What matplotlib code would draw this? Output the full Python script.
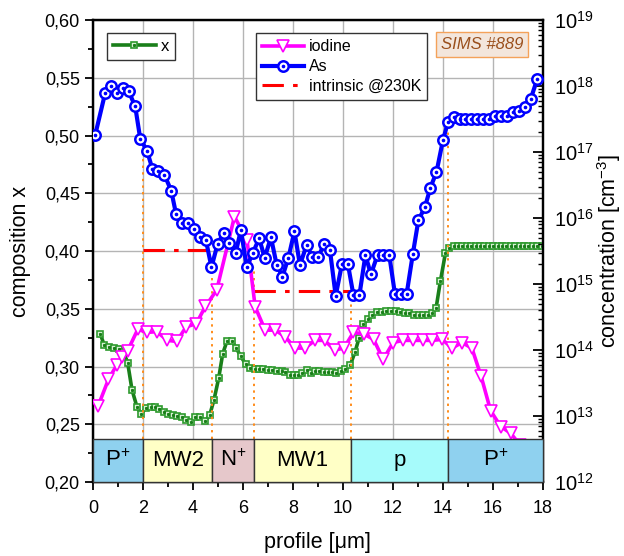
import numpy as np
import matplotlib
matplotlib.use("Agg")
import matplotlib.pyplot as plt
from matplotlib.patches import Rectangle
from matplotlib.ticker import MultipleLocator, FuncFormatter, LogLocator, NullFormatter

plt.rcParams['font.family'] = ['Liberation Sans', 'DejaVu Sans']
plt.rcParams['mathtext.fontset'] = 'custom'
plt.rcParams['mathtext.rm'] = 'Liberation Sans'
plt.rcParams['mathtext.it'] = 'Liberation Sans:italic'

# ---- composition profile x (left axis) ----
x_pos = [0.30, 0.44, 0.63, 0.83, 1.03, 1.22, 1.39, 1.56, 1.76, 1.92,
         2.12, 2.31, 2.49, 2.66, 2.84, 3.02, 3.19, 3.36, 3.55, 3.73,
         3.94, 4.10, 4.30, 4.50, 4.67, 4.84, 5.03, 5.19, 5.36, 5.56,
         5.73, 5.91, 6.11, 6.28, 6.48, 6.65, 6.82, 7.00, 7.17, 7.36,
         7.55, 7.70, 7.87, 8.04, 8.21, 8.38, 8.55, 8.72, 8.89, 9.06,
         9.23, 9.40, 9.57, 9.74, 9.91, 10.09, 10.29, 10.49, 10.65, 10.82,
         11.01, 11.18, 11.35, 11.55, 11.73, 11.92, 12.11, 12.29, 12.47, 12.66,
         12.84, 13.04, 13.21, 13.40, 13.56, 13.73, 13.90, 14.10, 14.26, 14.43,
         14.61, 14.78, 14.96, 15.13, 15.31, 15.49, 15.66, 15.84, 16.01, 16.19,
         16.37, 16.54, 16.72, 16.90, 17.07, 17.25, 17.42, 17.60, 17.78, 17.95]
x_comp = [0.328, 0.319, 0.317, 0.316, 0.315, 0.313, 0.303, 0.280, 0.265, 0.259,
          0.264, 0.265, 0.265, 0.263, 0.261, 0.259, 0.258, 0.257, 0.256, 0.254,
          0.252, 0.256, 0.256, 0.253, 0.258, 0.271, 0.290, 0.311, 0.322, 0.322,
          0.316, 0.309, 0.302, 0.299, 0.298, 0.298, 0.298, 0.297, 0.297, 0.296,
          0.296, 0.295, 0.293, 0.293, 0.293, 0.294, 0.297, 0.294, 0.296, 0.296,
          0.295, 0.295, 0.295, 0.294, 0.296, 0.298, 0.301, 0.313, 0.325, 0.337,
          0.341, 0.345, 0.347, 0.347, 0.348, 0.348, 0.348, 0.347, 0.346, 0.346,
          0.345, 0.345, 0.345, 0.345, 0.346, 0.351, 0.374, 0.398, 0.403, 0.404,
          0.404, 0.404, 0.404, 0.404, 0.404, 0.404, 0.404, 0.404, 0.404, 0.404,
          0.404, 0.404, 0.404, 0.404, 0.404, 0.404, 0.404, 0.404, 0.404, 0.404]

# ---- iodine SIMS profile [cm^-3] ----
iod_pos = [0.20, 0.62, 0.96, 1.16, 1.39, 1.79, 2.18, 2.55, 2.98, 3.35,
           3.73, 4.13, 4.50, 4.95, 5.66, 6.16, 6.49, 6.89, 7.29,
           7.69, 8.08, 8.48, 8.88, 9.27, 9.67, 10.04, 10.42, 10.83, 11.23,
           11.61, 12.01, 12.41, 12.81, 13.19, 13.58, 13.97, 14.37, 14.76, 15.16,
           15.53, 15.91, 16.32, 16.71, 17.10, 17.50, 17.90]
iod_conc = [1.4e13, 3.6e13, 6.0e13, 7.8e13, 9.8e13, 2.05e14, 1.85e14, 1.9e14, 1.4e14, 1.35e14,
            2.25e14, 2.5e14, 4.6e14, 8.1e14, 1.05e16, 4.7e15, 4.5e14, 2.0e14, 2.0e14,
            1.6e14, 1.07e14, 1.07e14, 1.4e14, 1.4e14, 1.0e14, 1.07e14, 1.85e14, 1.75e14, 1.45e14,
            7.2e13, 1.3e14, 1.4e14, 1.4e14, 1.4e14, 1.4e14, 1.45e14, 1.07e14, 1.3e14, 1.07e14,
            4.0e13, 1.2e13, 6.9e12, 5.5e12, 3.6e12, 3.2e12, 3.0e12]

# ---- arsenic SIMS profile [cm^-3] ----
as_pos = [0.09, 0.49, 0.73, 0.96, 1.19, 1.43, 1.69, 1.89, 2.16, 2.38,
          2.62, 2.86, 3.13, 3.32, 3.57, 3.80, 4.03, 4.30, 4.52, 4.74,
          4.99, 5.23, 5.46, 5.71, 5.92, 6.15, 6.40, 6.65, 6.87, 7.12,
          7.35, 7.58, 7.82, 8.06, 8.28, 8.55, 8.77, 9.01, 9.25, 9.48,
          9.71, 9.96, 10.20, 10.42, 10.66, 10.90, 11.12, 11.39, 11.61, 11.85,
          12.08, 12.32, 12.55, 12.80, 13.02, 13.28, 13.50, 13.74, 14.00, 14.21,
          14.43, 14.67, 14.90, 15.14, 15.37, 15.62, 15.86, 16.08, 16.32, 16.56,
          16.81, 17.05, 17.28, 17.51, 17.78]
as_conc = [1.82e17, 7.9e17, 1.0e18, 7.9e17, 9.3e17, 8.3e17, 4.9e17, 1.6e17, 1.05e17, 5.5e16,
           5.2e16, 4.5e16, 2.6e16, 1.17e16, 8.3e15, 8.3e15, 6.8e15, 5.2e15, 4.6e15, 1.8e15,
           4.1e15, 5.9e15, 4.2e15, 3.0e15, 6.6e15, 1.8e15, 3.0e15, 4.9e15, 2.5e15, 5.1e15,
           1.95e15, 1.3e15, 2.5e15, 6.3e15, 1.95e15, 3.9e15, 2.6e15, 2.6e15, 4.0e15, 3.3e15,
           6.6e14, 2.0e15, 2.0e15, 6.8e14, 6.8e14, 2.75e15, 1.4e15, 2.8e15, 2.8e15, 2.8e15,
           7.1e14, 7.1e14, 7.1e14, 2.9e15, 9.3e15, 1.45e16, 2.9e16, 4.9e16, 1.5e17, 2.9e17,
           3.4e17, 3.2e17, 3.2e17, 3.2e17, 3.2e17, 3.15e17, 3.15e17, 3.55e17, 3.55e17, 3.55e17,
           4.0e17, 4.2e17, 4.8e17, 6.3e17, 1.3e18]

# ---- intrinsic carrier concentration at 230 K in the two absorbers ----
intr_start = [2.0, 6.46]
intr_end = [4.78, 10.31]
intr_conc = [3.3e15, 7.9e14]

# ---- layer structure ----
layer_names = ['P$^{+}$', 'MW2', 'N$^{+}$', 'MW1', 'p', 'P$^{+}$']
layer_edges = [0.0, 2.0, 4.78, 6.46, 10.31, 14.22, 18.0]
layer_colors = ['#8fd1ef', '#ffffc6', '#e6c8cb', '#ffffc6', '#a6fbfb', '#8fd1ef']
# concentration at which each interface marker stops
junction_top = [1.07e17, 1.74e15, 1.82e15, 6.6e14, 2.75e17]

fig = plt.figure(figsize=(6.24, 5.56), dpi=100)
ax = fig.add_axes([0.149, 0.133, 0.721, 0.831])
ax2 = ax.twinx()
ax2.get_xaxis().set_visible(False)

# composition axis
ax.set_xlim(0, 18)
ax.set_ylim(0.20, 0.60)
ax.xaxis.set_major_locator(MultipleLocator(2))
ax.xaxis.set_minor_locator(MultipleLocator(1))
ax.yaxis.set_major_locator(MultipleLocator(0.05))
ax.yaxis.set_minor_locator(MultipleLocator(0.025))
ax.yaxis.set_major_formatter(FuncFormatter(lambda v, p: f"{v:.2f}".replace('.', ',')))
ax.grid(True, which='major', color='#b4b4b4', linewidth=1.0)
ax.set_axisbelow(True)
ax.tick_params(axis='both', which='major', direction='out', length=6, width=1.3,
               labelsize=13, right=False, top=False)
ax.tick_params(axis='x', which='major', pad=7)
ax.tick_params(axis='both', which='minor', direction='out', length=3.5, width=1.3,
               right=False, top=False)
ax.set_xlabel('profile [\u03bcm]', fontsize=15.5, labelpad=11)
ax.set_ylabel('composition x', fontsize=15.5, labelpad=10)
for s in ax.spines.values():
    s.set_linewidth(1.6)

# concentration axis
ax2.set_yscale('log')
ax2.set_ylim(1e12, 1e19)
ax2.yaxis.set_major_locator(LogLocator(base=10, numticks=20))
ax2.yaxis.set_minor_locator(LogLocator(base=10, subs=np.arange(2, 10), numticks=20))
ax2.yaxis.set_minor_formatter(NullFormatter())
ax2.tick_params(axis='y', which='major', direction='in', length=7, width=1.3,
                labelsize=14.5, pad=8)
ax2.tick_params(axis='y', which='minor', direction='in', length=3.5, width=1.0)
ax2.set_ylabel('concentration [cm$^{-3}$]', fontsize=15.5, labelpad=1)
for s in ax2.spines.values():
    s.set_linewidth(1.6)

# composition x
l_x, = ax.plot(x_pos, x_comp, color='#1a7f1a', lw=2.6, marker='s', ms=5,
               mfc='#d9f0d5', mec='#2e9a2e', mew=1.2, zorder=3)
d_x, = ax.plot(x_pos, x_comp, ls='none', marker='s', ms=1.2, mfc='#1a7f1a',
               mec='#1a7f1a', zorder=4)

# interface markers
band_top = 0.0925
for xe, top in zip(layer_edges[1:-1], junction_top):
    ax2.plot([xe, xe], [10 ** (12 + 7 * band_top), top], color='#ff8c1a',
             lw=1.4, ls=(0, (1.2, 2.2)), zorder=2)

# intrinsic level
l_int = None
for x0, x1, c in zip(intr_start, intr_end, intr_conc):
    l_int, = ax2.plot([x0, x1], [c, c], color='#ff0000', lw=2.2,
                      ls=(0, (7, 3, 1.5, 3)), zorder=3)

l_iod, = ax2.plot(iod_pos, iod_conc, color='#ff00ff', lw=2.6, marker='v', ms=8,
                  mfc='white', mec='#ff00ff', mew=1.2, zorder=4)
l_as, = ax2.plot(as_pos, as_conc, color='#0000ff', lw=3.0, marker='o', ms=7.5,
                 mfc='white', mec='#0000ff', mew=1.8, zorder=5)
d_as, = ax2.plot(as_pos, as_conc, ls='none', marker='o', ms=1.6, mfc='#0000ff',
                 mec='#0000ff', zorder=6)

# layer stack along the bottom
trans = ax2.get_xaxis_transform()
for name, x0, x1, col in zip(layer_names, layer_edges[:-1], layer_edges[1:], layer_colors):
    ax2.add_patch(Rectangle((x0, 0), x1 - x0, band_top, transform=trans,
                            facecolor=col, edgecolor='#333333', lw=1.0, zorder=7,
                            clip_on=False))
    ax2.text((x0 + x1) / 2, band_top / 2, name, transform=trans, ha='center',
             va='center', fontsize=16, zorder=8)

# legends
leg1 = ax2.legend([(l_x, d_x)], ['x'], loc='upper left', bbox_to_anchor=(0.031, 0.972),
                  borderaxespad=0, fancybox=False, edgecolor='#333333', framealpha=1,
                  fontsize=12, handlelength=2.6, handletextpad=0.3, borderpad=0.35)
leg1.get_frame().set_linewidth(1.0)
ax2.add_artist(leg1)
leg2 = ax2.legend([l_iod, (l_as, d_as), l_int], ['iodine', 'As', 'intrinsic @230K'],
                  loc='upper left', bbox_to_anchor=(0.362, 0.972), borderaxespad=0,
                  fancybox=False, edgecolor='#333333', framealpha=1, fontsize=11.5,
                  handlelength=2.6, handletextpad=0.3, borderpad=0.4, labelspacing=0.3)
leg2.get_frame().set_linewidth(1.0)
leg1.set_zorder(10)
leg2.set_zorder(10)

ax2.text(0.864, 0.946, 'SIMS #889', transform=ax2.transAxes, ha='center', va='center',
         fontsize=12, style='italic', color='#9a4f1c', zorder=11,
         bbox=dict(boxstyle='square,pad=0.3', facecolor='#f3e6dc', edgecolor='#f4a25a', lw=1.0))

fig.savefig('out.png', dpi=100)
